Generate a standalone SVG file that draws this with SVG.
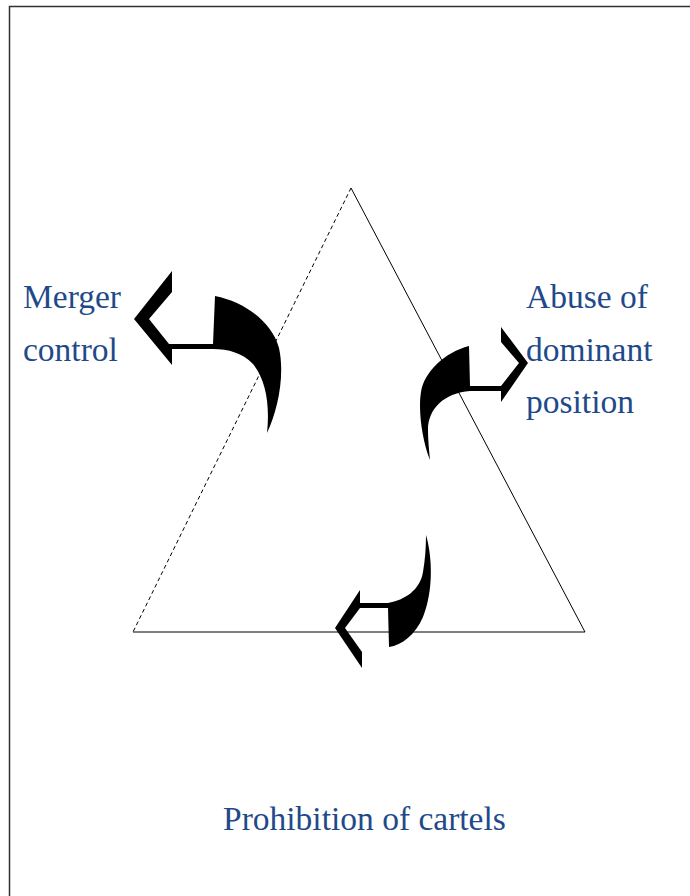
<svg xmlns="http://www.w3.org/2000/svg" width="690" height="896" viewBox="0 0 690 896">
<style>
.lbl{font-family:"Liberation Serif","Times New Roman",serif;font-size:33.5px;fill:#1f4a8a}
.edge{stroke:#000;stroke-width:1;fill:none}
.arr{fill:#000;stroke:none}
</style>
<rect x="0" y="0" width="690" height="896" fill="#fff"/>
<rect x="9.5" y="6.5" width="700" height="900" fill="none" stroke="#333" stroke-width="1.5"/>
<g id="connectors">
<line class="edge" x1="351" y1="188" x2="133" y2="632" stroke-dasharray="4,3"/>
<line class="edge" x1="351" y1="188" x2="585" y2="632"/>
<line class="edge" x1="133" y1="632" x2="585" y2="632"/>
<path class="arr" d="M134,319 L172,271 L172,292 L149,319 L169,344 L213,344 L215,296 C245,302 272,322 279,348 C285,375 278,410 267,433 C270,405 266,380 253,364 C243,353 228,349 213,349 L172,349 L172,365 Z"/>
<path class="arr" d="M501,327 L528,363 L501,402 L501,391 L470,391 C445,393 428,408 428,430 C428,440 429,450 430,460 C422,440 418,410 421,392 C424,372 445,352 469,346 L470,386 L501,386 L519,363 L501,342 Z"/>
<path class="arr" d="M335,628 L360,590 L360,603 L388,603 C405,600 420,590 423,572 C425,560 426,548 426,535 C432,555 434,590 423,617 C415,635 402,645 389,647 L388,608 L360,608 L345,628 L362,652 L362,668 Z"/>
</g>
<g id="merger">
<text class="lbl" x="23" y="308">Merger</text>
<text class="lbl" x="23" y="361">control</text>
</g>
<g id="abuse">
<text class="lbl" x="526" y="308">Abuse of</text>
<text class="lbl" x="526" y="361">dominant</text>
<text class="lbl" x="526" y="413">position</text>
</g>
<g id="cartels">
<text class="lbl" x="223" y="830">Prohibition of cartels</text>
</g>
</svg>
